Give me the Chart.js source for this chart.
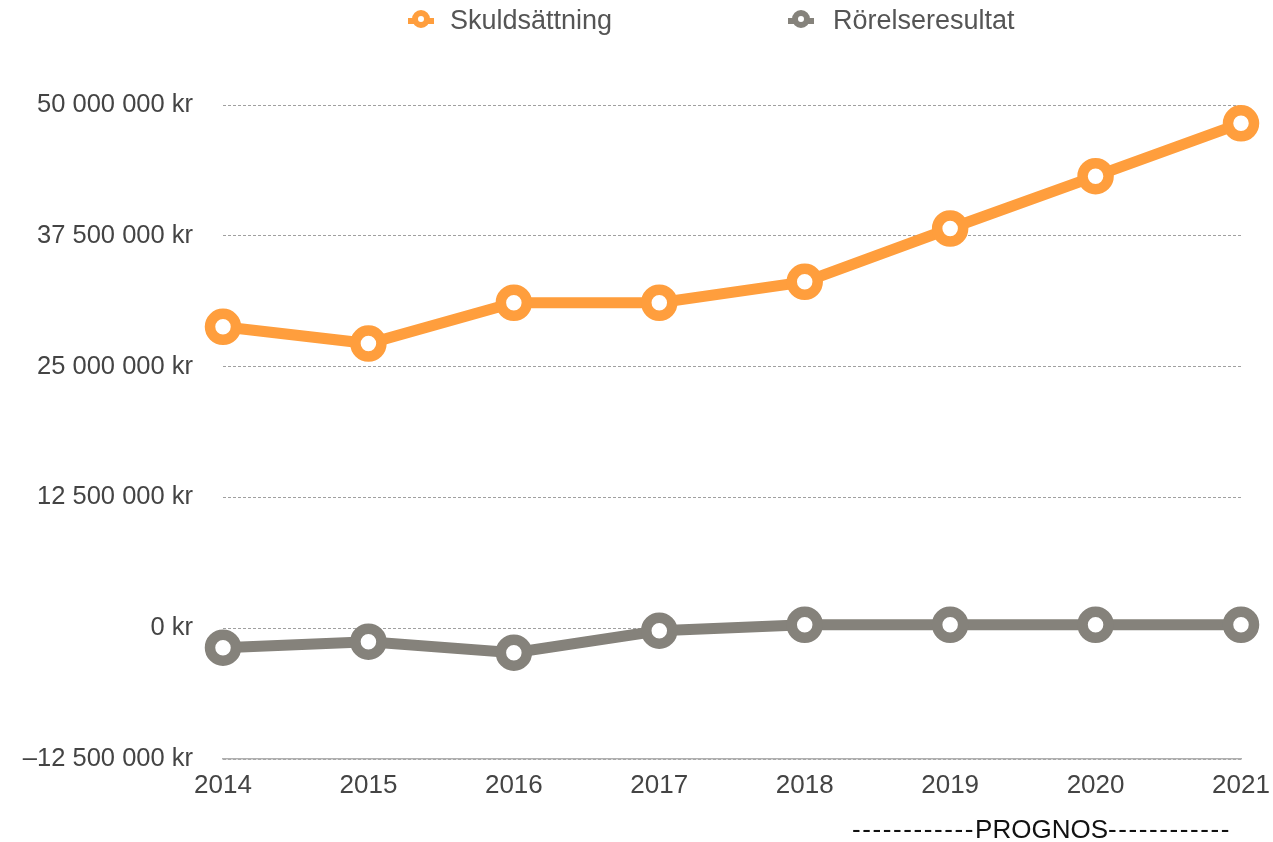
<!DOCTYPE html>
<html lang="sv">
<head>
    <meta charset="UTF-8">
    <title>Skuldsättning och rörelseresultat</title>
    <script src="https://cdn.jsdelivr.net/npm/chart.js@4/dist/chart.umd.min.js"></script>
    <style>
        body {
            margin: 0;
            background: #fff;
            font-family: "Liberation Sans", Arial, sans-serif;
        }

        .wrap {
            position: relative;
            width: 1273px;
            height: 842px;
        }

        .legend-item {
            position: absolute;
            top: 4px;
            font-size: 27px;
            color: #555;
            line-height: 32px;
        }

        .legend-item .bar {
            position: absolute;
            width: 26px;
            height: 6px;
            top: 14px;
        }

        .legend-item .dot {
            position: absolute;
            width: 6px;
            height: 6px;
            border-radius: 50%;
            border: 6px solid;
            background: #fff;
            top: 6px;
        }

        .prognos {
            position: absolute;
            left: 852px;
            top: 814px;
            font-size: 26px;
            color: #111;
            line-height: 30px;
            white-space: nowrap;
        }

        .prognos .d {
            letter-spacing: 1.6px;
        }
    </style>
</head>
<body>

<div class="wrap">
    <canvas id="canvas" width="1273" height="842"></canvas>

    <div class="legend-item" style="left:450px">
        <span class="bar" style="left:-42px;background:#ff9e3d"></span>
        <span class="dot" style="left:-38px;border-color:#ff9e3d"></span>Skuldsättning
    </div>
    <div class="legend-item" style="left:833px">
        <span class="bar" style="left:-45px;background:#85827b"></span>
        <span class="dot" style="left:-41px;border-color:#85827b"></span>Rörelseresultat
    </div>

    <div class="prognos"><span class="d">------------</span>PROGNOS<span class="d">------------</span></div>
</div>

<script>
    var years = ["2014", "2015", "2016", "2017", "2018", "2019", "2020", "2021"];
    var skuldsattning = [28800000, 27200000, 31100000, 31100000, 33100000, 38200000, 43200000, 48250000];
    var rorelseresultat = [-1860000, -1290000, -2340000, -240000, 330000, 330000, 330000, 330000];
    var yTicks = [-12500000, 0, 12500000, 25000000, 37500000, 50000000];

    var orange = '#ff9e3d';
    var grey = '#85827b';

    function kr(value) {
        var s = Math.abs(value).toString().replace(/\B(?=(\d{3})+(?!\d))/g, ' ');
        return (value < 0 ? '\u2013' : '') + s + ' kr';
    }

    function lineSet(label, data, color) {
        return {
            label: label,
            data: data,
            borderColor: color,
            backgroundColor: color,
            borderWidth: 11,
            pointRadius: 13,
            pointHoverRadius: 13,
            pointBorderWidth: 10.5,
            pointBackgroundColor: '#fff',
            pointBorderColor: color,
            tension: 0
        };
    }

    var ctx = document.getElementById('canvas').getContext('2d');
    new Chart(ctx, {
        type: 'line',
        data: {
            labels: years,
            datasets: [
                lineSet('Skuldsättning', skuldsattning, orange),
                lineSet('Rörelseresultat', rorelseresultat, grey)
            ]
        },
        options: {
            responsive: false,
            animation: false,
            layout: {
                padding: {top: 105, right: 32, bottom: 0, left: 0}
            },
            plugins: {
                legend: {display: false},
                tooltip: {enabled: false}
            },
            scales: {
                x: {
                    offset: false,
                    grid: {display: false, drawTicks: false},
                    border: {display: true, color: '#b0b0b0', width: 1.5},
                    ticks: {
                        padding: 11,
                        color: '#444',
                        font: {family: 'Liberation Sans', size: 26},
                        maxRotation: 0
                    },
                    afterFit: function (scale) {
                        scale.height = 83;
                        scale.paddingLeft = 0;
                        scale.paddingRight = 0;
                    }
                },
                y: {
                    min: yTicks[0],
                    max: yTicks[yTicks.length - 1],
                    afterBuildTicks: function (scale) {
                        scale.ticks = yTicks.map(function (v) {
                            return {value: v};
                        });
                    },
                    grid: {
                        color: '#a0a0a0',
                        lineWidth: 1,
                        drawTicks: false
                    },
                    border: {display: false, dash: [3, 2]},
                    ticks: {
                        padding: 30,
                        color: '#444',
                        font: {family: 'Liberation Sans', size: 25.5},
                        callback: function (value) {
                            return kr(value);
                        }
                    },
                    afterFit: function (scale) {
                        scale.width = 223;
                    }
                }
            }
        }
    });
</script>
</body>
</html>
